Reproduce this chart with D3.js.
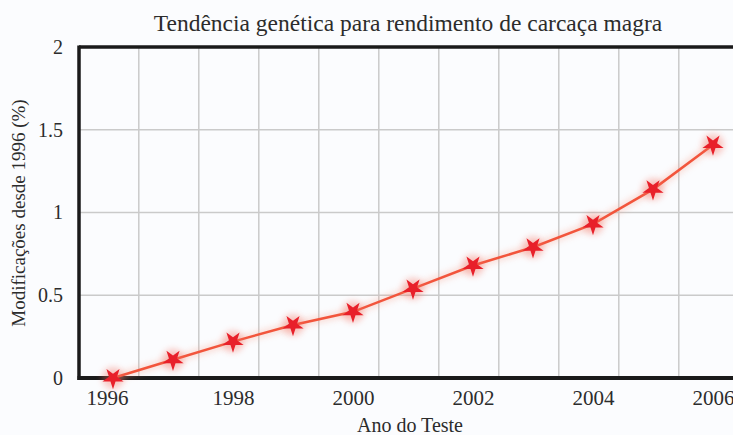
<!DOCTYPE html>
<html>
<head>
<meta charset="utf-8">
<script src="https://cdn.jsdelivr.net/npm/d3@7"></script>
<style>
  html, body { margin: 0; padding: 0; background: #fbfcfe; }
  svg { display: block; }
  text { font-family: "Liberation Serif", "Times New Roman", serif; fill: #2c2c2c; }
</style>
</head>
<body>
<svg id="root"></svg>
<script>
const years = [1996, 1997, 1998, 1999, 2000, 2001, 2002, 2003, 2004, 2005, 2006];
const gain = [0, 0.11, 0.22, 0.32, 0.40, 0.54, 0.68, 0.79, 0.93, 1.14, 1.41];
const xTicks = [1996, 1998, 2000, 2002, 2004, 2006];
const yTicks = [0, 0.5, 1, 1.5, 2];
const titleText = 'Tendência genética para rendimento de carcaça magra';
const xTitle = 'Ano do Teste';
const yTitle = 'Modificações desde 1996 (%)';

const width = 733, height = 435;
const margin = { top: 47, right: 0, bottom: 57, left: 79 };

const x = d3.scaleLinear().domain([1996, 2006]).range([113, 713]);
const y = d3.scaleLinear().domain([0, 2]).range([height - margin.bottom, margin.top]);

const svg = d3.select('#root').attr('width', width).attr('height', height);

const defs = svg.append('defs');
defs.append('filter').attr('id', 'glow')
    .attr('x', '-100%').attr('y', '-100%').attr('width', '300%').attr('height', '300%')
    .append('feGaussianBlur').attr('stdDeviation', 3);

// grid lines sit between categories
const gridX = years.slice(0, -1).map(d => d + 0.43);
svg.append('g').selectAll('line').data(gridX).join('line')
    .attr('x1', d => x(d)).attr('x2', d => x(d))
    .attr('y1', y(2)).attr('y2', y(0))
    .attr('stroke', '#cacaca').attr('stroke-width', 1.5);

svg.append('g').selectAll('line').data(yTicks.slice(1, -1)).join('line')
    .attr('x1', margin.left).attr('x2', width)
    .attr('y1', d => y(d)).attr('y2', d => y(d))
    .attr('stroke', '#cacaca').attr('stroke-width', 1.5);

// frame
svg.append('line').attr('x1', margin.left).attr('x2', width)
    .attr('y1', y(2)).attr('y2', y(2))
    .attr('stroke', '#1a1a1a').attr('stroke-width', 3.5);
svg.append('line').attr('x1', margin.left).attr('x2', margin.left)
    .attr('y1', y(2) - 1.5).attr('y2', y(0) + 2)
    .attr('stroke', '#1a1a1a').attr('stroke-width', 3.5);
svg.append('line').attr('x1', margin.left - 1.5).attr('x2', width)
    .attr('y1', y(0)).attr('y2', y(0))
    .attr('stroke', '#1a1a1a').attr('stroke-width', 4);

// axes (labels only)
const axisX = d3.axisBottom(x).tickValues(xTicks).tickFormat(d3.format('d')).tickSize(0).tickPadding(12);
const gx = svg.append('g').attr('transform', `translate(0, ${y(0)})`).call(axisX);
gx.select('.domain').remove();
gx.selectAll('text').style('font-size', '21px').style('font-family', '"Liberation Serif", serif').attr('fill', '#2c2c2c');
gx.selectAll('.tick').filter(d => d === 1996).select('text').attr('dx', -6);

const axisY = d3.axisLeft(y).tickValues(yTicks).tickFormat(d => d).tickSize(0).tickPadding(16);
const gy = svg.append('g').attr('transform', `translate(${margin.left}, 0)`).call(axisY);
gy.select('.domain').remove();
gy.selectAll('text').style('font-size', '20px').style('font-family', '"Liberation Serif", serif').attr('fill', '#2c2c2c');

// series
const pts = years.map((d, i) => [d, gain[i]]);
const line = d3.line().x(d => x(d[0])).y(d => y(d[1]));

svg.append('path').datum(pts)
    .attr('d', line).attr('fill', 'none')
    .attr('stroke', '#f7a08c').attr('stroke-width', 7).attr('opacity', 0.35)
    .attr('filter', 'url(#glow)');
svg.append('path').datum(pts)
    .attr('d', line).attr('fill', 'none')
    .attr('stroke', '#f2553c').attr('stroke-width', 2.5);

svg.append('g').selectAll('circle').data(pts).join('circle')
    .attr('cx', d => x(d[0])).attr('cy', d => y(d[1])).attr('r', 11)
    .attr('fill', '#f36a5a').attr('opacity', 0.35).attr('filter', 'url(#glow)');

svg.append('g').selectAll('path').data(pts).join('path')
    .attr('transform', d => `translate(${x(d[0])}, ${y(d[1])}) rotate(180)`)
    .attr('d', d3.symbol(d3.symbolStar, 140))
    .attr('fill', '#e8202a');

// titles
svg.append('text').attr('x', 408).attr('y', 31).attr('text-anchor', 'middle')
    .style('font-size', '23.5px').text(titleText);
svg.append('text').attr('x', 410).attr('y', 432).attr('text-anchor', 'middle')
    .style('font-size', '20px').text(xTitle);
svg.append('text').attr('transform', 'translate(25, 213) rotate(-90)').attr('text-anchor', 'middle')
    .style('font-size', '19px').text(yTitle);
</script>
</body>
</html>
